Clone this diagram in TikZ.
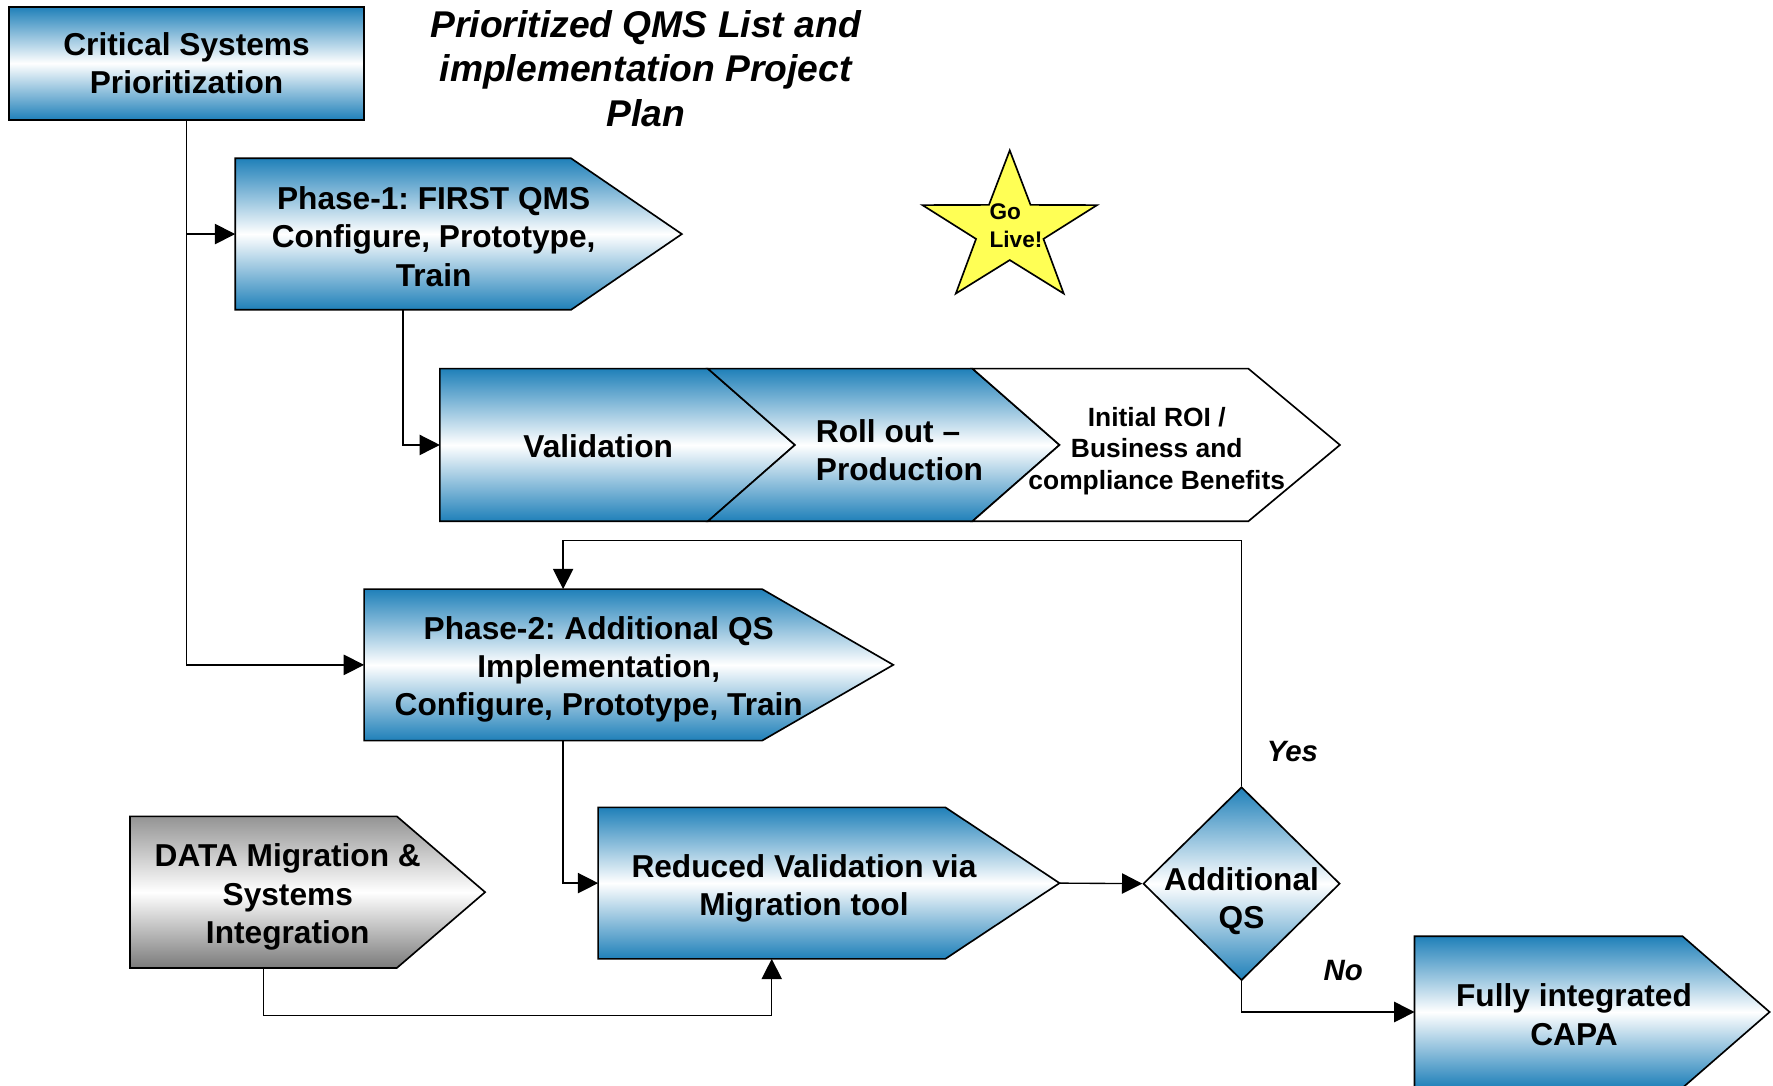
\documentclass[tikz,border=0pt]{standalone}
\usepackage{fontspec}
\setmainfont{Liberation Sans}
\usetikzlibrary{arrows.meta,shapes.geometric}
\frenchspacing

\definecolor{qmsblue}{RGB}{31,128,185}
\definecolor{golive}{RGB}{255,255,85}

\tikzset{every picture/.style={line width=0.75pt}}
\tikzset{
  bluefill/.style={draw=black, line width=1.1pt, top color=qmsblue, bottom color=qmsblue, middle color=white},
  grayfill/.style={draw=black, line width=1.1pt, top color=black!42, bottom color=black!52, middle color=white},
  whitefill/.style={draw=black, line width=1.1pt, fill=white},
  starfill/.style={draw=black, line width=1.1pt, fill=golive},
  body/.style={inner sep=0pt, outer sep=0pt},
  boxtext/.style={inner sep=0.75pt, align=center, font=\fontsize{21}{25.5}\selectfont\bfseries},
  roitext/.style={inner sep=0.75pt, align=center, font=\fontsize{17.5}{21}\selectfont\bfseries},
  startext/.style={inner sep=0.75pt, align=left, font=\fontsize{15}{18.75}\selectfont\bfseries},
  titletext/.style={inner sep=0.75pt, align=center, font=\fontsize{24.7}{29.6}\selectfont\bfseries\itshape},
  yesno/.style={inner sep=0.75pt, font=\fontsize{19.5}{23}\selectfont\bfseries\itshape},
  flow/.style={line width=0.9pt, -{Triangle[length=13.5pt,width=13.5pt]}}
}

\begin{document}
\begin{tikzpicture}[x=0.75pt,y=0.75pt,yscale=-1,xscale=1]
\useasboundingbox (0,0) rectangle (1568,960);

%Shape: Rectangle
\node[bluefill, boxtext, minimum width=235.5pt, minimum height=75pt] (crit) at (165,56) {Critical Systems\\Prioritization};
% Text Node
\node[titletext] (title) at (571,60.5) {Prioritized QMS List and\\implementation Project\\Plan};

%Shape: Pentagon Arrow
\node[body, minimum width=222.75pt, minimum height=100.5pt] (ph1) at (356.5,207) {};
\coordinate (ph1 tip) at (603,207);
\draw[bluefill] (ph1.north west) -- (ph1.north east) -- (ph1 tip) -- (ph1.south east) -- (ph1.south west) -- cycle;
% Text Node
\node[boxtext] (ph1 text) at (383.5,209) {Phase-1: FIRST QMS\\Configure, Prototype,\\Train};

%Shape: Star
\draw[starfill] (893,133) -- (874.6,181.2) -- (815.8,181.4) -- (863.2,211.3) -- (845.3,259.6) -- (893,230) -- (940.7,259.6) -- (922.8,211.3) -- (970.2,181.4) -- (911.4,181.2) -- cycle;
% Text Node
\node[startext] (golive) at (898.5,199.5) {Go\\Live!};

%Shape: Pentagon Arrow
\node[body, minimum width=177.75pt, minimum height=101.25pt] (val) at (507.5,393.5) {};
\coordinate (val tip) at (703,393.5);
\draw[bluefill] (val.north west) -- (val.north east) -- (val tip) -- (val.south east) -- (val.south west) -- cycle;
%Shape: Chevron
\node[body, minimum width=175.5pt, minimum height=101.25pt] (roll) at (743,393.5) {};
\coordinate (roll tip) at (937,393.5);
\draw[bluefill] (roll.north west) -- (roll.north east) -- (roll tip) -- (roll.south east) -- (roll.south west) -- (val tip) -- cycle;
%Shape: Chevron
\node[body, minimum width=183pt, minimum height=101.25pt] (roi) at (982,393.5) {};
\coordinate (roi tip) at (1185,393.5);
\draw[whitefill] (roi.north west) -- (roi.north east) -- (roi tip) -- (roi.south east) -- (roi.south west) -- (roll tip) -- cycle;
% Text Node
\node[boxtext] (val text) at (529,395) {Validation};
% Text Node
\node[boxtext, align=left] (roll text) at (795.5,398) {Roll out –\\Production};
% Text Node
\node[roitext] (roi text) at (1023,399) {Initial ROI /\\Business and\\compliance Benefits};

%Shape: Pentagon Arrow
\node[body, minimum width=264pt, minimum height=100.5pt] (ph2) at (498,588) {};
\coordinate (ph2 tip) at (790,588);
\draw[bluefill] (ph2.north west) -- (ph2.north east) -- (ph2 tip) -- (ph2.south east) -- (ph2.south west) -- cycle;
% Text Node
\node[boxtext] (ph2 text) at (529.5,592) {Phase-2: Additional QS\\Implementation,\\Configure, Prototype, Train};

%Shape: Pentagon Arrow
\node[body, minimum width=177pt, minimum height=100.5pt] (data) at (233,789) {};
\coordinate (data tip) at (429,789);
\draw[grayfill] (data.north west) -- (data.north east) -- (data tip) -- (data.south east) -- (data.south west) -- cycle;
% Text Node
\node[boxtext] (data text) at (254.5,793.5) {DATA Migration \&\\Systems\\Integration};

%Shape: Pentagon Arrow
\node[body, minimum width=230.25pt, minimum height=100.5pt] (red) at (682.5,781) {};
\coordinate (red tip) at (937,781);
\draw[bluefill] (red.north west) -- (red.north east) -- (red tip) -- (red.south east) -- (red.south west) -- cycle;
% Text Node
\node[boxtext] (red text) at (711,785.5) {Reduced Validation via\\Migration tool};

%Shape: Diamond
\node[diamond, bluefill, inner sep=0pt, minimum width=130.5pt, minimum height=128.25pt] (addqs) at (1098,781.5) {};
% Text Node
\node[boxtext] (addqs text) at (1098,797) {Additional\\QS};

%Shape: Pentagon Arrow
\node[body, minimum width=177.75pt, minimum height=100.5pt] (capa) at (1369.5,895) {};
\coordinate (capa tip) at (1565,895);
\draw[bluefill] (capa.north west) -- (capa.north east) -- (capa tip) -- (capa.south east) -- (capa.south west) -- cycle;
% Text Node
\node[boxtext] (capa text) at (1392,897.5) {Fully integrated\\CAPA};

% Text Node
\node[yesno] (yes) at (1143,665) {Yes};
% Text Node
\node[yesno] (no) at (1188,858) {No};

%Straight Lines
\draw[flow] (crit.south) |- (ph2.west);
\draw[flow] (crit.south |- ph1.west) -- (ph1.west);
\draw[flow] (ph1.south) |- (val.west);
\draw[flow] (ph2.south) |- (red.west);
\draw[flow] (data.south) -- ++(0,42) -| (red.south);
\draw[flow] (red tip) -- (addqs.west);
\draw[flow] (addqs.north) -- ++(0,-217) -| (ph2.north);
\draw[flow] (addqs.south) |- (capa.west);

\end{tikzpicture}
\end{document}
